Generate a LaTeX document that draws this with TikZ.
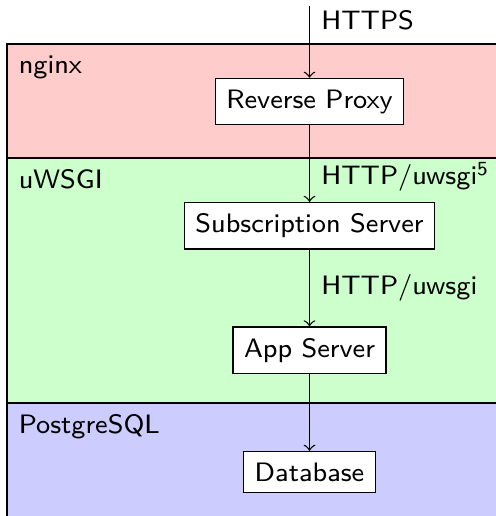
\documentclass[tikz,border=0pt]{standalone}
\usetikzlibrary{positioning}
\tikzstyle{block} = [rectangle, draw, fill=white]
\tikzstyle{layer} = [draw]
\tikzstyle{layername} = [anchor=north west]
\tikzstyle{line} = [draw, ->]

\begin{document}
\begin{tikzpicture}[x=1pt, y=1pt, node distance=23pt, auto,
    font=\sffamily\fontsize{8}{9.6}\selectfont]
    \useasboundingbox (0,0) rectangle (148.8,-154.8);
    % Draw layers
    \draw [layer, fill=red!20] (2.1,-13.2) rectangle (170,-47.4);
    \draw [layer, fill=green!20] (2.1,-47.4) rectangle (170,-120.9);
    \draw [layer, fill=blue!20] (2.1,-120.9) rectangle (170,-170);
    \node [layername] (nginx) at (2.1,-13.2) {nginx};
    \node [layername] (uwsgi) at (2.1,-47.4) {uWSGI};
    \node [layername] (postgres) at (2.1,-120.9) {PostgreSQL};
    % Place nodes
    \coordinate (client) at (92.85,-1.95);
    \node [block] (proxy) at (92.85,-30.45) {Reverse Proxy};
    \node [block, below=of proxy] (subscription) {Subscription Server};
    \node [block, below=of subscription] (app) {App Server};
    \node [block, below=of app] (db) {Database};
    % Draw edges
    \path [line] (client) -- node [pos=0.19] {HTTPS} (proxy);
    \path [line] (proxy) -- node [pos=0.67] {HTTP/uwsgi\textsuperscript{5}} (subscription);
    \path [line] (subscription) -- node {HTTP/uwsgi} (app);
    \path [line] (app) -- (db);
\end{tikzpicture}
\end{document}
